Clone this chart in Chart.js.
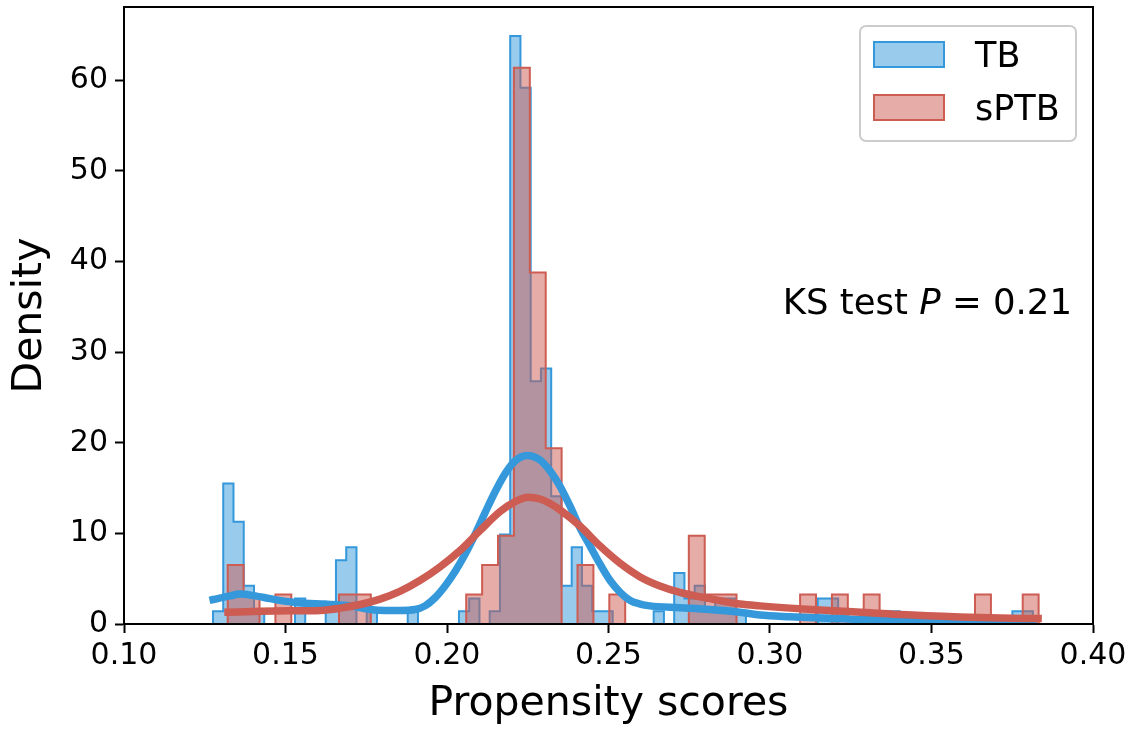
<!DOCTYPE html>
<html><head><meta charset="utf-8">
<script src="https://cdn.jsdelivr.net/npm/chart.js@4.4.1/dist/chart.umd.min.js"></script>
<style>html,body{margin:0;padding:0;background:#fff;} #c{display:block;}</style>
</head><body>
<canvas id="c" width="1136" height="730" style="width:1136px;height:730px"></canvas>
<script>
// ---- data ----
const seriesLabels = ['TB', 'sPTB'];
const xLabel = 'Propensity scores';
const yLabel = 'Density';
const xTicks = [0.10, 0.15, 0.20, 0.25, 0.30, 0.35, 0.40];
const yTicks = [0, 10, 20, 30, 40, 50, 60];

// TB histogram (density), 80 equal bins
const tbBinStart = 0.12755;
const tbBinWidth = 0.003173;
const tbDensity = [
  1.41, 15.5, 11.28, 4.23, 1.41, 0, 0, 0, 2.82, 0,
  0, 1.41, 7.05, 8.46, 0, 1.41, 0, 0, 0, 1.41,
  0, 0, 0, 0, 1.41, 2.82, 0, 1.41, 9.87, 64.9,
  59.2, 26.8, 28.2, 14.1, 4.23, 8.46, 4.23, 1.41, 1.41, 0,
  0, 0, 0, 1.41, 0, 5.64, 2.82, 4.23, 1.41, 2.82,
  2.82, 1.41, 0, 0, 0, 0, 0, 0, 0, 2.82,
  2.82, 0, 0, 0, 0, 0, 1.41, 0, 0, 0,
  0, 0, 0, 0, 0, 0, 0, 0, 1.41, 1.41
];

// sPTB histogram (density), 51 equal bins
const sptbBinStart = 0.13211;
const sptbBinWidth = 0.0049226;
const sptbDensity = [
  6.5, 3.25, 0, 3.25, 0, 0, 0, 3.25, 3.25, 0,
  0, 0, 0, 0, 0, 3.25, 6.5, 9.75, 61.4, 38.8,
  19.4, 0, 6.5, 0, 3.25, 0, 0, 0, 0, 9.75,
  3.25, 3.25, 0, 0, 0, 0, 3.25, 0, 3.25, 0,
  3.25, 0, 0, 0, 0, 0, 0, 3.25, 0, 0,
  3.25
];

// KDE curves (read at sample positions)
const tbKdeX = [0.1276,0.1328,0.1359,0.1406,0.1452,0.1502,0.1560,0.1622,0.1700,0.1762,0.1808,0.1854,0.1901,0.1932,0.1963,0.1994,0.2025,0.2056,0.2087,0.2118,0.2149,0.2180,0.2211,0.2248,0.2288,0.2319,0.2350,0.2381,0.2412,0.2443,0.2474,0.2505,0.2536,0.2567,0.2598,0.2628,0.2721,0.2814,0.2907,0.2969,0.3062,0.3155,0.3279,0.3402,0.3557,0.3712,0.3814];
const tbKdeY = [2.7,3.1,3.3,3.1,2.8,2.5,2.3,2.2,2.0,1.6,1.5,1.5,1.6,2.0,2.9,4.2,5.8,7.7,9.9,12.3,14.6,16.6,18.0,18.6,18.1,16.9,15.2,13.0,10.6,8.6,6.6,4.8,3.5,2.6,2.2,2.0,1.8,1.6,1.3,1.0,0.8,0.65,0.5,0.45,0.35,0.35,0.4];
const sptbKdeX = [0.1322,0.1421,0.1514,0.1607,0.1669,0.1731,0.1793,0.1854,0.1916,0.1978,0.2040,0.2102,0.2164,0.2211,0.2251,0.2288,0.2319,0.2350,0.2412,0.2474,0.2536,0.2598,0.2659,0.2721,0.2814,0.2907,0.2969,0.3155,0.3310,0.3402,0.3588,0.3712,0.3830];
const sptbKdeY = [1.3,1.4,1.45,1.5,1.75,2.15,2.75,3.6,4.8,6.3,8.1,10.3,12.4,13.5,14.0,13.8,13.3,12.6,10.8,8.6,6.7,5.2,4.2,3.5,2.8,2.2,2.0,1.55,1.25,1.05,0.78,0.66,0.6];

const ksPrefix = 'KS test ';
const ksVar = 'P';
const ksSuffix = ' = 0.21';

// ---- styling ----
const FONT = "'DejaVu Sans', 'Liberation Sans', sans-serif";
const TB_EDGE = 'rgb(52,152,219)';
const TB_FILL = 'rgba(52,152,219,0.5)';
const SP_EDGE = 'rgb(205,92,82)';
const SP_FILL = 'rgba(205,92,82,0.5)';

function stepPoints(start, width, values) {
  const n = values.length;
  const pts = [{x: start, y: 0}];
  for (let i = 0; i < n; i++) pts.push({x: start + i * width, y: values[i]});
  pts.push({x: start + n * width, y: values[n - 1]});
  pts.push({x: start + n * width, y: 0});
  return pts;
}
function zipXY(xs, ys) { return xs.map((x, i) => ({x: x, y: ys[i]})); }

const framePlugin = {
  id: 'frame',
  afterDatasetsDraw(chart) {
    const {ctx, chartArea: a} = chart;
    ctx.save();
    ctx.strokeStyle = '#000';
    ctx.lineWidth = 2;
    ctx.strokeRect(a.left, a.top, a.right - a.left, a.bottom - a.top);
    ctx.restore();
  },
  afterDraw(chart) {
    const ctx = chart.ctx;
    ctx.save();
    // KS annotation (right aligned)
    ctx.fillStyle = '#000';
    ctx.textBaseline = 'alphabetic';
    const reg = '35.5px ' + FONT, ital = 'oblique 35.5px ' + FONT;
    ctx.font = reg; const w1 = ctx.measureText(ksPrefix).width; const w3 = ctx.measureText(ksSuffix).width;
    ctx.font = ital; const w2 = ctx.measureText(ksVar).width;
    const right = 1072, base = 314;
    let x = right - (w1 + w2 + w3);
    ctx.textAlign = 'left';
    ctx.font = reg; ctx.fillText(ksPrefix, x, base); x += w1;
    ctx.font = ital; ctx.fillText(ksVar, x, base); x += w2;
    ctx.font = reg; ctx.fillText(ksSuffix, x, base);

    // legend
    const legFont = '35px ' + FONT;
    const lx = 860, ly = 26, lw = 216, lh = 115, r = 6;
    ctx.beginPath();
    ctx.moveTo(lx + r, ly); ctx.lineTo(lx + lw - r, ly); ctx.arcTo(lx + lw, ly, lx + lw, ly + r, r);
    ctx.lineTo(lx + lw, ly + lh - r); ctx.arcTo(lx + lw, ly + lh, lx + lw - r, ly + lh, r);
    ctx.lineTo(lx + r, ly + lh); ctx.arcTo(lx, ly + lh, lx, ly + lh - r, r);
    ctx.lineTo(lx, ly + r); ctx.arcTo(lx, ly, lx + r, ly, r); ctx.closePath();
    ctx.fillStyle = 'rgba(255,255,255,0.8)'; ctx.fill();
    ctx.strokeStyle = 'rgb(204,204,204)'; ctx.lineWidth = 2; ctx.stroke();
    const items = [
      {label: seriesLabels[0], fill: TB_FILL, edge: TB_EDGE, y: 42},
      {label: seriesLabels[1], fill: SP_FILL, edge: SP_EDGE, y: 95}
    ];
    items.forEach(it => {
      ctx.fillStyle = '#fff'; ctx.fillRect(874, it.y, 70, 25);
      ctx.fillStyle = it.fill; ctx.fillRect(874, it.y, 70, 25);
      ctx.strokeStyle = it.edge; ctx.lineWidth = 2; ctx.lineJoin = 'miter';
      ctx.strokeRect(874, it.y, 70, 25);
      ctx.fillStyle = '#000'; ctx.font = legFont; ctx.textAlign = 'left';
      ctx.fillText(it.label, 975, it.y + 25);
    });
    ctx.restore();
  }
};

new Chart(document.getElementById('c'), {
  type: 'line',
  data: {
    datasets: [
      {label: 'sPTB KDE', data: zipXY(sptbKdeX, sptbKdeY), borderColor: SP_EDGE, borderWidth: 7.5,
       pointRadius: 0, fill: false, cubicInterpolationMode: 'monotone', borderCapStyle: 'square'},
      {label: 'TB KDE', data: zipXY(tbKdeX, tbKdeY), borderColor: TB_EDGE, borderWidth: 7.5,
       pointRadius: 0, fill: false, cubicInterpolationMode: 'monotone', borderCapStyle: 'square'},
      {label: seriesLabels[1], data: stepPoints(sptbBinStart, sptbBinWidth, sptbDensity), stepped: true,
       borderColor: SP_EDGE, backgroundColor: SP_FILL, borderWidth: 2, pointRadius: 0, fill: 'origin',
       borderJoinStyle: 'miter'},
      {label: seriesLabels[0], data: stepPoints(tbBinStart, tbBinWidth, tbDensity), stepped: true,
       borderColor: TB_EDGE, backgroundColor: TB_FILL, borderWidth: 2, pointRadius: 0, fill: 'origin',
       borderJoinStyle: 'miter'}
    ]
  },
  options: {
    responsive: false,
    animation: false,
    devicePixelRatio: 1,
    layout: {padding: {top: 7, right: 43, left: 0, bottom: 0}},
    plugins: {legend: {display: false}, tooltip: {enabled: false}},
    scales: {
      x: {
        type: 'linear', min: 0.10, max: 0.40,
        afterBuildTicks: s => { s.ticks = xTicks.map(v => ({value: v})); },
        afterFit: s => { s.height = 106; s.paddingLeft = 0; s.paddingRight = 0; },
        ticks: {callback: v => v.toFixed(2), color: '#000', padding: 5, maxRotation: 0,
                font: {family: FONT, size: 30}},
        grid: {drawOnChartArea: false, drawTicks: true, tickLength: 9, tickWidth: 2, tickColor: '#000'},
        border: {display: true, color: '#000', width: 2},
        title: {display: true, text: xLabel, color: '#000', font: {family: FONT, size: 41},
                padding: {top: 0, bottom: 1}}
      },
      y: {
        type: 'linear', min: 0, max: 68.1,
        afterBuildTicks: s => { s.ticks = yTicks.map(v => ({value: v})); },
        afterFit: s => { s.width = 124; s.paddingTop = 0; s.paddingBottom = 0; },
        ticks: {callback: v => String(v), color: '#000', padding: 7,
                font: {family: FONT, size: 30}},
        grid: {drawOnChartArea: false, drawTicks: true, tickLength: 9, tickWidth: 2, tickColor: '#000'},
        border: {display: true, color: '#000', width: 2},
        title: {display: true, text: yLabel, color: '#000', font: {family: FONT, size: 41},
                padding: {top: 6, bottom: 0}}
      }
    }
  },
  plugins: [framePlugin]
});
</script>
</body></html>
